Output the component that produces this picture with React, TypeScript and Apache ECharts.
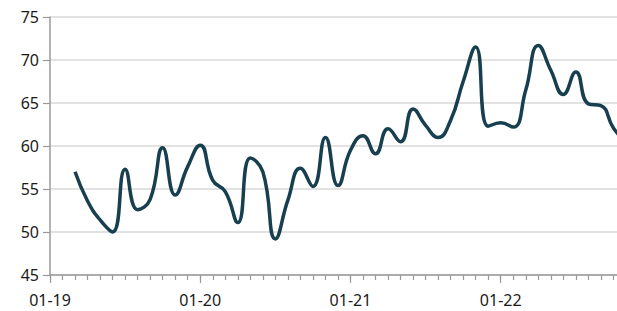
import React, { useEffect, useRef } from "react";
import * as echarts from "echarts";

const months: string[] = [
  "01-19","02-19","03-19","04-19","05-19","06-19","07-19","08-19","09-19","10-19","11-19","12-19",
  "01-20","02-20","03-20","04-20","05-20","06-20","07-20","08-20","09-20","10-20","11-20","12-20",
  "01-21","02-21","03-21","04-21","05-21","06-21","07-21","08-21","09-21","10-21","11-21","12-21",
  "01-22","02-22","03-22","04-22","05-22","06-22","07-22","08-22","09-22","10-22","11-22","12-22",
];

const values: (number | null)[] = [
  null, null, 57.0, 53.6, 51.4, 50.0, 57.3, 52.6, 53.8, 59.8, 54.3, 57.6,
  60.1, 56.0, 54.7, 51.1, 58.6, 57.0, 49.2, 53.7, 57.4, 55.3, 61.0, 55.4,
  59.5, 61.2, 59.1, 62.0, 60.5, 64.3, 62.4, 61.0, 63.0, 67.5, 71.5, 62.3,
  62.7, 62.2, 66.5, 71.7, 68.8, 66.0, 68.6, 64.9, 64.7, 62.1, 60.5, null,
];

const yMin = 45;
const yMax = 75;
const yStep = 5;

export default function App() {
  const ref = useRef<HTMLDivElement>(null);
  useEffect(() => {
    if (!ref.current) return;
    const chart = echarts.init(ref.current, null, { renderer: "svg" });
    const font = "'Noto Sans', sans-serif";
    const axisGray = "#9a9a9a";
    chart.setOption({
      animation: false,
      backgroundColor: "#ffffff",
      grid: { left: 50, top: 17, bottom: 36, right: 660 - (50 + 47 * 12.52), containLabel: false },
      xAxis: [
        {
          type: "category",
          data: months,
          boundaryGap: false,
          axisLine: { show: true, lineStyle: { color: axisGray, width: 1.5 } },
          axisTick: { show: true, interval: 0, length: 5, lineStyle: { color: axisGray, width: 1.2 } },
          axisLabel: { show: false },
          splitLine: { show: false },
        },
        {
          type: "category",
          data: months,
          boundaryGap: false,
          position: "bottom",
          axisLine: { show: false },
          axisTick: {
            show: true,
            length: 8,
            interval: (i: number) => i % 12 === 0,
            lineStyle: { color: axisGray, width: 1.2 },
          },
          axisLabel: {
            show: true,
            interval: (i: number) => i % 12 === 0,
            color: "#1a1a1a",
            fontFamily: font,
            fontSize: 16,
            margin: 17,
          },
          splitLine: { show: false },
        },
      ],
      yAxis: {
        type: "value",
        min: yMin,
        max: yMax,
        interval: yStep,
        axisLine: { show: true, lineStyle: { color: axisGray, width: 1.5 } },
        axisTick: { show: true, length: 7, lineStyle: { color: axisGray, width: 1.2 } },
        axisLabel: { color: "#1a1a1a", fontFamily: font, fontSize: 16, margin: 11 },
        splitLine: { show: true, lineStyle: { color: "#d9d9d9", width: 1.5 } },
      },
      series: [
        {
          type: "line",
          data: values,
          xAxisIndex: 0,
          smooth: 0.5,
          showSymbol: false,
          symbol: "none",
          connectNulls: false,
          lineStyle: { color: "#173f4f", width: 3.5 },
        },
      ],
    });
    return () => chart.dispose();
  }, []);
  return (
    <div style={{ position: "fixed", left: 0, top: 0, width: 617, height: 311, overflow: "hidden" }}>
      <div ref={ref} style={{ width: 660, height: 311 }} />
    </div>
  );
}
